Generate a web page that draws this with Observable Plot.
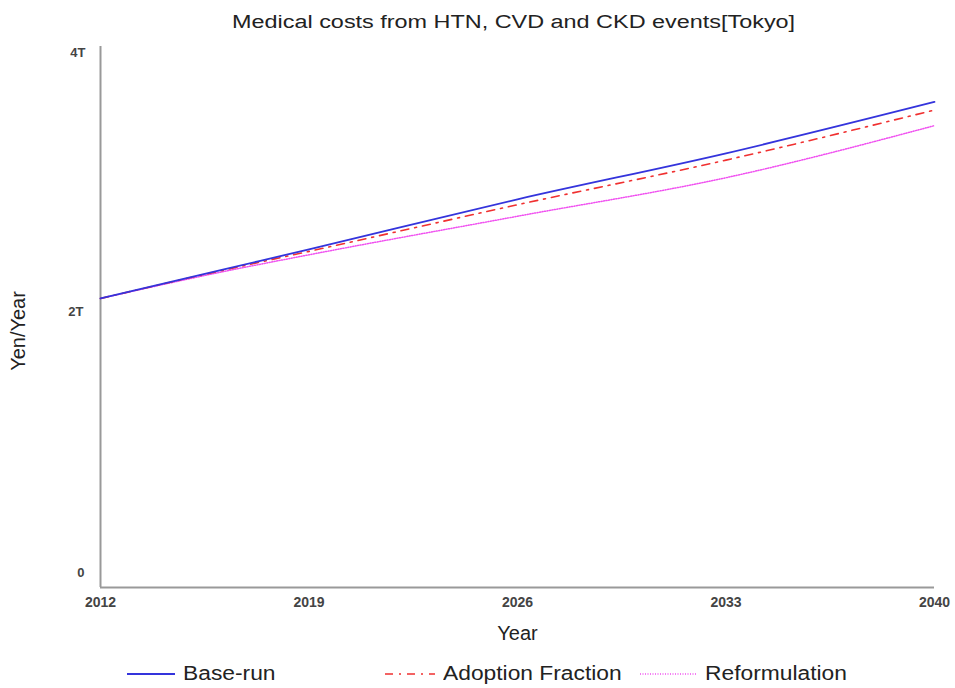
<!DOCTYPE html>
<html>
<head>
<meta charset="utf-8">
<script src="https://cdn.jsdelivr.net/npm/d3@7"></script>
<script src="https://cdn.jsdelivr.net/npm/@observablehq/plot@0.6"></script>
<style>
  body { margin: 0; background: #fff; font-family: "Liberation Sans", Arial, sans-serif; }
  #wrap { width: 955px; height: 688px; position: relative; }
  #title { position: absolute; left: 0; top: 12px; width: 1028px; text-align: center; font-size: 18px; color: #222; }
  #title span { display: inline-block; transform: scaleX(1.3); }
  #chart { position: absolute; left: 0; top: 40px; }
  #legend { position: absolute; left: 0; top: 661px; width: 955px; height: 26px; font-size: 20px; color: #222; }
  .item { position: absolute; top: 0; display: flex; align-items: center; }
  .item svg { margin-right: 8px; }
  .item span { display: inline-block; transform: scaleX(1.14); transform-origin: left center; }
</style>
</head>
<body>
<div id="wrap">
  <div id="title"><span>Medical costs from HTN, CVD and CKD events[Tokyo]</span></div>
  <div id="chart"></div>
  <div id="legend"></div>
</div>
<script>
const years = [2012, 2016, 2019, 2026, 2033, 2040];
const baseRun = [2.137, 2.345, 2.50, 2.87, 3.21, 3.59];
const adoptionFraction = [2.137, 2.34, 2.485, 2.83, 3.16, 3.53];
const reformulation = [2.137, 2.33, 2.46, 2.745, 3.03, 3.415];
const xTicks = [2012, 2019, 2026, 2033, 2040];
const yTicks = [0, 2e12, 4e12];
const yTickLabels = ["0", "2T", "4T"];
const seriesNames = ["Base-run", "Adoption Fraction", "Reformulation"];
const seriesColors = ["#3434dc", "#f03030", "#f050f0"];

const rows = [];
[baseRun, adoptionFraction, reformulation].forEach((vals, i) => {
  vals.forEach((v, j) => rows.push({year: years[j], value: v * 1e12, series: seriesNames[i]}));
});
const fmt = v => yTickLabels[yTicks.indexOf(v)];

const chart = Plot.plot({
  width: 955,
  height: 610,
  marginTop: 6,
  marginBottom: 63,
  marginLeft: 100,
  marginRight: 21,
  style: {fontFamily: "Liberation Sans, Arial, sans-serif", color: "#333"},
  x: {domain: [2012, 2040]},
  y: {domain: [0, 4e12]},
  marks: [
    Plot.axisX(xTicks, {tickSize: 0, tickPadding: 10, tickFormat: d => String(d), fontSize: 14, fontWeight: "bold", fill: "#444", label: null}),
    Plot.axisY([4e12], {tickSize: 0, tickPadding: 15, tickFormat: fmt, fontSize: 13, fontWeight: "bold", fill: "#444", dy: 6, label: null}),
    Plot.axisY([2e12], {tickSize: 0, tickPadding: 17, tickFormat: fmt, fontSize: 13, fontWeight: "bold", fill: "#444", dy: -5, label: null}),
    Plot.axisY([0], {tickSize: 0, tickPadding: 16, tickFormat: fmt, fontSize: 13, fontWeight: "bold", fill: "#444", dy: -15, label: null}),
    Plot.ruleX([2012], {stroke: "#999", strokeWidth: 2}),
    Plot.ruleY([0], {stroke: "#999", strokeWidth: 2}),
    Plot.text(["Year"], {frameAnchor: "bottom", dy: 52, fontSize: 20, fill: "#222"}),
    Plot.text(["Yen/Year"], {frameAnchor: "left", textAnchor: "middle", dx: -82, dy: 14, rotate: -90, fontSize: 20, fill: "#222"}),
    Plot.line(rows.filter(d => d.series === "Reformulation"), {x: "year", y: "value", stroke: seriesColors[2], strokeWidth: 1.5, strokeDasharray: "1,1.5", curve: "monotone-x"}),
    Plot.line(rows.filter(d => d.series === "Adoption Fraction"), {x: "year", y: "value", stroke: seriesColors[1], strokeWidth: 1.6, strokeDasharray: "8,6,2,6", curve: "monotone-x"}),
    Plot.line(rows.filter(d => d.series === "Base-run"), {x: "year", y: "value", stroke: seriesColors[0], strokeWidth: 1.8, curve: "monotone-x"})
  ]
});
document.getElementById("chart").appendChild(chart);

const legendItems = [
  {name: seriesNames[0], color: seriesColors[0], dash: null, left: 127, w: 48, sw: 1.8},
  {name: seriesNames[1], color: seriesColors[1], dash: "8,6,2,6", left: 385, w: 50, sw: 1.6},
  {name: seriesNames[2], color: seriesColors[2], dash: "1,1.5", left: 640, w: 57, sw: 1.5}
];
const legend = document.getElementById("legend");
legendItems.forEach(it => {
  const div = document.createElement("div");
  div.className = "item";
  div.style.left = it.left + "px";
  div.innerHTML = `<svg width="${it.w}" height="24"><line x1="0" x2="${it.w}" y1="13" y2="13" stroke="${it.color}" stroke-width="${it.sw}" ${it.dash ? `stroke-dasharray="${it.dash}"` : ""}/></svg><span>${it.name}</span>`;
  legend.appendChild(div);
});
</script>
</body>
</html>
